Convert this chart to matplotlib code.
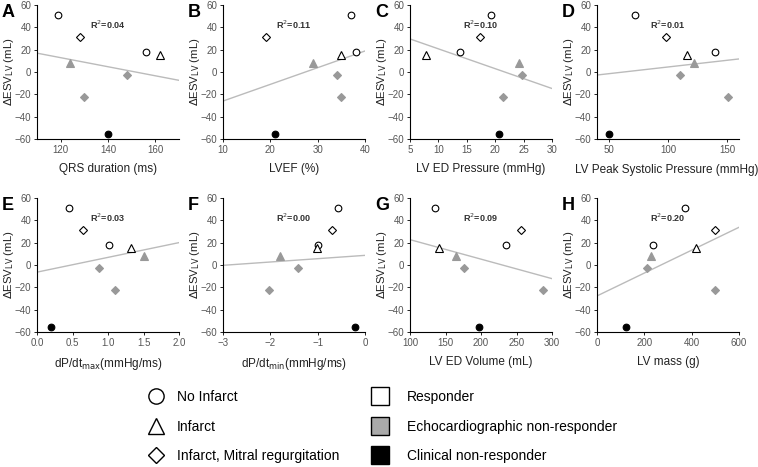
import numpy as np
import matplotlib
matplotlib.use("Agg")
import matplotlib.pyplot as plt
from matplotlib.lines import Line2D

plt.rcParams['font.family'] = ['Liberation Sans', 'DejaVu Sans']

# change in LV end-systolic volume per patient (mL)
delta_esv = [51, 31, 17.5, 15, 8.5, -2.5, -22, -55.5]
# infarct group per patient
infarct = ['none', 'mr', 'none', 'infarct', 'infarct', 'mr', 'mr', 'none']
# response group per patient
response = ['resp', 'resp', 'resp', 'resp', 'echo', 'echo', 'echo', 'clin']

# baseline measurements per patient, same order as delta_esv
qrs = [119, 128, 156, 162, 124, 148, 130, 140]
lvef = [37, 19, 38, 35, 29, 34, 35, 21]
ed_pressure = [19.3, 17.3, 13.8, 7.8, 24.2, 24.8, 21.3, 20.7]
peak_sys = [72, 98, 140, 116, 122, 110, 151, 50]
dpdt_max = [0.45, 0.65, 1.02, 1.33, 1.5, 0.87, 1.1, 0.2]
dpdt_min = [-0.58, -0.7, -1.0, -1.02, -1.8, -1.42, -2.02, -0.22]
ed_volume = [135, 257, 235, 141, 165, 176, 288, 197]
lv_mass = [370, 497, 235, 420, 228, 213, 497, 123]

panels = ['A', 'B', 'C', 'D', 'E', 'F', 'G', 'H']
xlabels = ['QRS duration (ms)', 'LVEF (%)', 'LV ED Pressure (mmHg)',
           'LV Peak Systolic Pressure (mmHg)',
           r'dP/dt$_{\mathrm{max}}$(mmHg/ms)', r'dP/dt$_{\mathrm{min}}$(mmHg/ms)',
           'LV ED Volume (mL)', 'LV mass (g)']
r2_labels = ['0.04', '0.11', '0.10', '0.01', '0.03', '0.00', '0.09', '0.20']
xlims = [(110, 170), (10, 40), (5, 30), (40, 160), (0, 2), (-3, 0), (100, 300), (0, 600)]
xticks = [[120, 140, 160], [10, 20, 30, 40], [5, 10, 15, 20, 25, 30], [50, 100, 150],
          [0, 0.5, 1, 1.5, 2], [-3, -2, -1, 0], [100, 150, 200, 250, 300], [0, 200, 400, 600]]
xdata = [qrs, lvef, ed_pressure, peak_sys, dpdt_max, dpdt_min, ed_volume, lv_mass]

marker_of = {'none': 'o', 'infarct': '^', 'mr': 'D'}
size_of = {'none': 4.8, 'infarct': 5.2, 'mr': 4}
face_of = {'resp': 'white', 'echo': '#999999', 'clin': 'black'}
edge_of = {'resp': 'black', 'echo': '#999999', 'clin': 'black'}

W, H = 758, 467
fig = plt.figure(figsize=(W / 100, H / 100), dpi=100)

col_left = [37, 223, 410, 597]
row_top = [5, 198]
ax_w, ax_h = 142, 134

for k in range(8):
    r, c = divmod(k, 4)
    left = col_left[c]
    top = row_top[r]
    ax = fig.add_axes([left / W, 1 - (top + ax_h) / H, ax_w / W, ax_h / H])
    x = np.array(xdata[k], dtype=float)
    y = np.array(delta_esv, dtype=float)

    # least squares line over the full x range
    slope, icpt = np.polyfit(x, y, 1)
    xs = np.array(xlims[k], dtype=float)
    ax.plot(xs, slope * xs + icpt, color='#bbbbbb', lw=1, zorder=1)

    for i in range(len(y)):
        ax.plot(x[i], y[i], linestyle='none', marker=marker_of[infarct[i]],
                markersize=size_of[infarct[i]], markerfacecolor=face_of[response[i]],
                markeredgecolor=edge_of[response[i]], markeredgewidth=0.8, zorder=3)

    ax.text(0.5, 0.85, r'R$^2$=' + r2_labels[k], transform=ax.transAxes,
            ha='center', va='center', fontsize=6.5, fontweight='bold', color='#333333')

    ax.set_xlim(xlims[k])
    ax.set_ylim(-60, 60)
    ax.set_xticks(xticks[k])
    ax.set_yticks([-60, -40, -20, 0, 20, 40, 60])
    ax.spines['top'].set_visible(False)
    ax.spines['right'].set_visible(False)
    for s in ['left', 'bottom']:
        ax.spines[s].set_linewidth(0.8)
    ax.tick_params(labelsize=7, labelcolor='#555555', length=2, width=0.6, pad=2)
    ax.set_xlabel(xlabels[k], fontsize=8.5, color='#222222', labelpad=6)
    if k == 3:
        ax.xaxis.set_label_coords(0.49, -0.19)
    ax.set_ylabel(r'$\Delta$ESV$_{\mathrm{LV}}$ (mL)', fontsize=8.2, color='#222222', labelpad=-1)

    fig.text((left - 35) / W, 1 - (top - 1) / H, panels[k], fontsize=13,
             fontweight='bold', ha='left', va='top')

# legends
shape_handles = [
    Line2D([], [], linestyle='none', marker='o', markersize=11, markerfacecolor='white',
           markeredgecolor='black', markeredgewidth=1),
    Line2D([], [], linestyle='none', marker='^', markersize=11, markerfacecolor='white',
           markeredgecolor='black', markeredgewidth=1),
    Line2D([], [], linestyle='none', marker='D', markersize=8.5, markerfacecolor='white',
           markeredgecolor='black', markeredgewidth=1),
]
shape_labels = ['No Infarct', 'Infarct', 'Infarct, Mitral regurgitation']
resp_handles = [
    Line2D([], [], linestyle='none', marker='s', markersize=12.5, markerfacecolor=f,
           markeredgecolor='black', markeredgewidth=1)
    for f in ['white', '#aaaaaa', 'black']
]
resp_labels = ['Responder', 'Echocardiographic non-responder', 'Clinical non-responder']

leg_kw = dict(frameon=False, fontsize=10, handlelength=1.2, labelspacing=1.12,
              borderpad=0, borderaxespad=0)
fig.legend(shape_handles, shape_labels, loc='upper left', handletextpad=0.9,
           bbox_to_anchor=(148 / W, 1 - 390 / H), **leg_kw)
fig.legend(resp_handles, resp_labels, loc='upper left', handletextpad=1.3,
           bbox_to_anchor=(372 / W, 1 - 390 / H), **leg_kw)

fig.savefig('out.png', dpi=100)
